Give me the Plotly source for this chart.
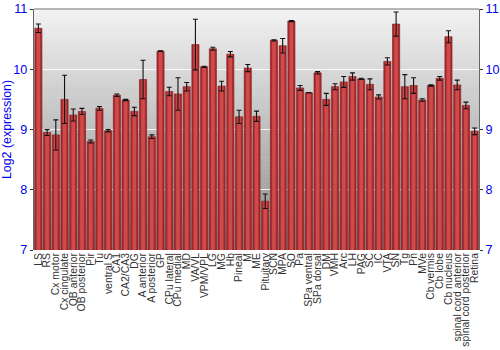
import plotly.graph_objects as go

categories = ["LS", "RS", "Cx motor", "Cx cingulate", "OB anterior", "OB posterior", "Pir", "Tu",
              "ventral S", "CA1", "CA2/CA3", "DG", "A anterior", "A posterior", "GP", "CPu lateral",
              "CPu medial", "MD", "VA/VL", "VPM/VPL", "LG", "MG", "Hb", "Pineal", "M", "ME",
              "Pituitary", "SCN", "MPA", "SO", "Pa", "SPa ventral", "SPa dorsal", "DM", "VMH", "Arc",
              "LH", "PAG", "SC", "IC", "VTA", "SN", "Tg", "Pn", "MVe", "Cb vermis", "Cb lobe",
              "Cb nucleus", "spinal cord anterior", "spinal cord posterior", "Retina"]

values = [10.68, 8.95, 8.91, 9.50, 9.24, 9.30, 8.80, 9.35,
          8.98, 9.57, 9.49, 9.30, 9.83, 8.88, 10.30, 9.63,
          9.59, 9.71, 10.41, 10.04, 10.34, 9.72, 10.25, 9.21, 10.02, 9.22,
          7.81, 10.48, 10.39, 10.80, 9.69, 9.61, 9.94, 9.50, 9.71, 9.79,
          9.88, 9.84, 9.75, 9.54, 10.13, 10.75, 9.71, 9.73, 9.49, 9.73, 9.85,
          10.54, 9.74, 9.40, 8.97]

errors = [0.07, 0.05, 0.25, 0.40, 0.10, 0.05, 0.025, 0.03,
          0.02, 0.02, 0.01, 0.07, 0.32, 0.03, 0.005, 0.07,
          0.27, 0.07, 0.42, 0.01, 0.025, 0.08, 0.045, 0.11, 0.06, 0.085,
          0.12, 0.01, 0.12, 0.01, 0.04, 0.005, 0.02, 0.10, 0.05, 0.09,
          0.06, 0.01, 0.09, 0.035, 0.06, 0.20, 0.20, 0.13, 0.02, 0.01, 0.03,
          0.10, 0.08, 0.055, 0.055]

y_ticks = [7, 8, 9, 10, 11]

fig = go.Figure()

# base bar (darker edges)
fig.add_trace(go.Bar(
    x=categories, y=[v - 7 for v in values], base=7, width=0.82,
    marker=dict(color="#a82a2c", line=dict(color="#7d1a1c", width=0.6)),
    hoverinfo="skip", showlegend=False,
))
# highlight core
fig.add_trace(go.Bar(
    x=categories, y=[v - 7 for v in values], base=7, width=0.42,
    marker=dict(color="#cf4a4a", line=dict(width=0)),
    error_y=dict(type="data", array=errors, color="#111111", thickness=1.1, width=2.5),
    showlegend=False,
))
# invisible trace for right axis
fig.add_trace(go.Scatter(x=[categories[0]], y=[9], yaxis="y2", mode="markers",
                         marker=dict(opacity=0), hoverinfo="skip", showlegend=False))

# vertical gray gradient background
shapes = []
n = 60
top = (242, 242, 242)
bot = (140, 140, 140)
for i in range(n):
    t = i / (n - 1)
    c = tuple(int(round(top[k] + (bot[k] - top[k]) * t)) for k in range(3))
    shapes.append(dict(type="rect", xref="paper", yref="paper", x0=0, x1=1,
                       y0=1 - (i + 1) / n, y1=1 - i / n + 0.002,
                       fillcolor="rgb(%d,%d,%d)" % c, line=dict(width=0), layer="below"))
shapes.append(dict(type="line", xref="paper", yref="paper", x0=0, x1=1, y0=1, y1=1,
                   line=dict(color="#777777", width=1.2)))

fig.update_layout(
    width=500, height=350,
    margin=dict(l=34, r=21, t=9, b=100),
    paper_bgcolor="white", plot_bgcolor="rgba(0,0,0,0)",
    barmode="overlay", bargap=0.1,
    shapes=shapes,
    font=dict(family="Liberation Sans, Arial, sans-serif"),
    xaxis=dict(tickangle=-90, tickfont=dict(size=10.4, color="#333333"), showgrid=False,
               tickmode="array", tickvals=categories, ticktext=categories,
               automargin=False,
               showline=False, ticks="", range=[-0.5, len(categories) - 0.5]),
    yaxis=dict(range=[7, 11], tickvals=y_ticks, tickfont=dict(size=12.6, color="#0000ee"),
               title=dict(text="Log2 (expression)", font=dict(size=12.4, color="#0000ee"), standoff=2),
               automargin=False,
               showgrid=True, gridcolor="rgba(255,255,255,0.85)", gridwidth=1.2,
               showline=True, linecolor="#666666", linewidth=1.2,
               ticks="outside", ticklen=3, tickcolor="#333333", zeroline=False),
    yaxis2=dict(range=[7, 11], tickvals=y_ticks, overlaying="y", side="right",
                tickfont=dict(size=12.6, color="#0000ee"), showgrid=False, automargin=False,
                showline=True, linecolor="#666666", linewidth=1.2,
                ticks="outside", ticklen=3, tickcolor="#333333", zeroline=False),
)

fig.write_html("out.html")
